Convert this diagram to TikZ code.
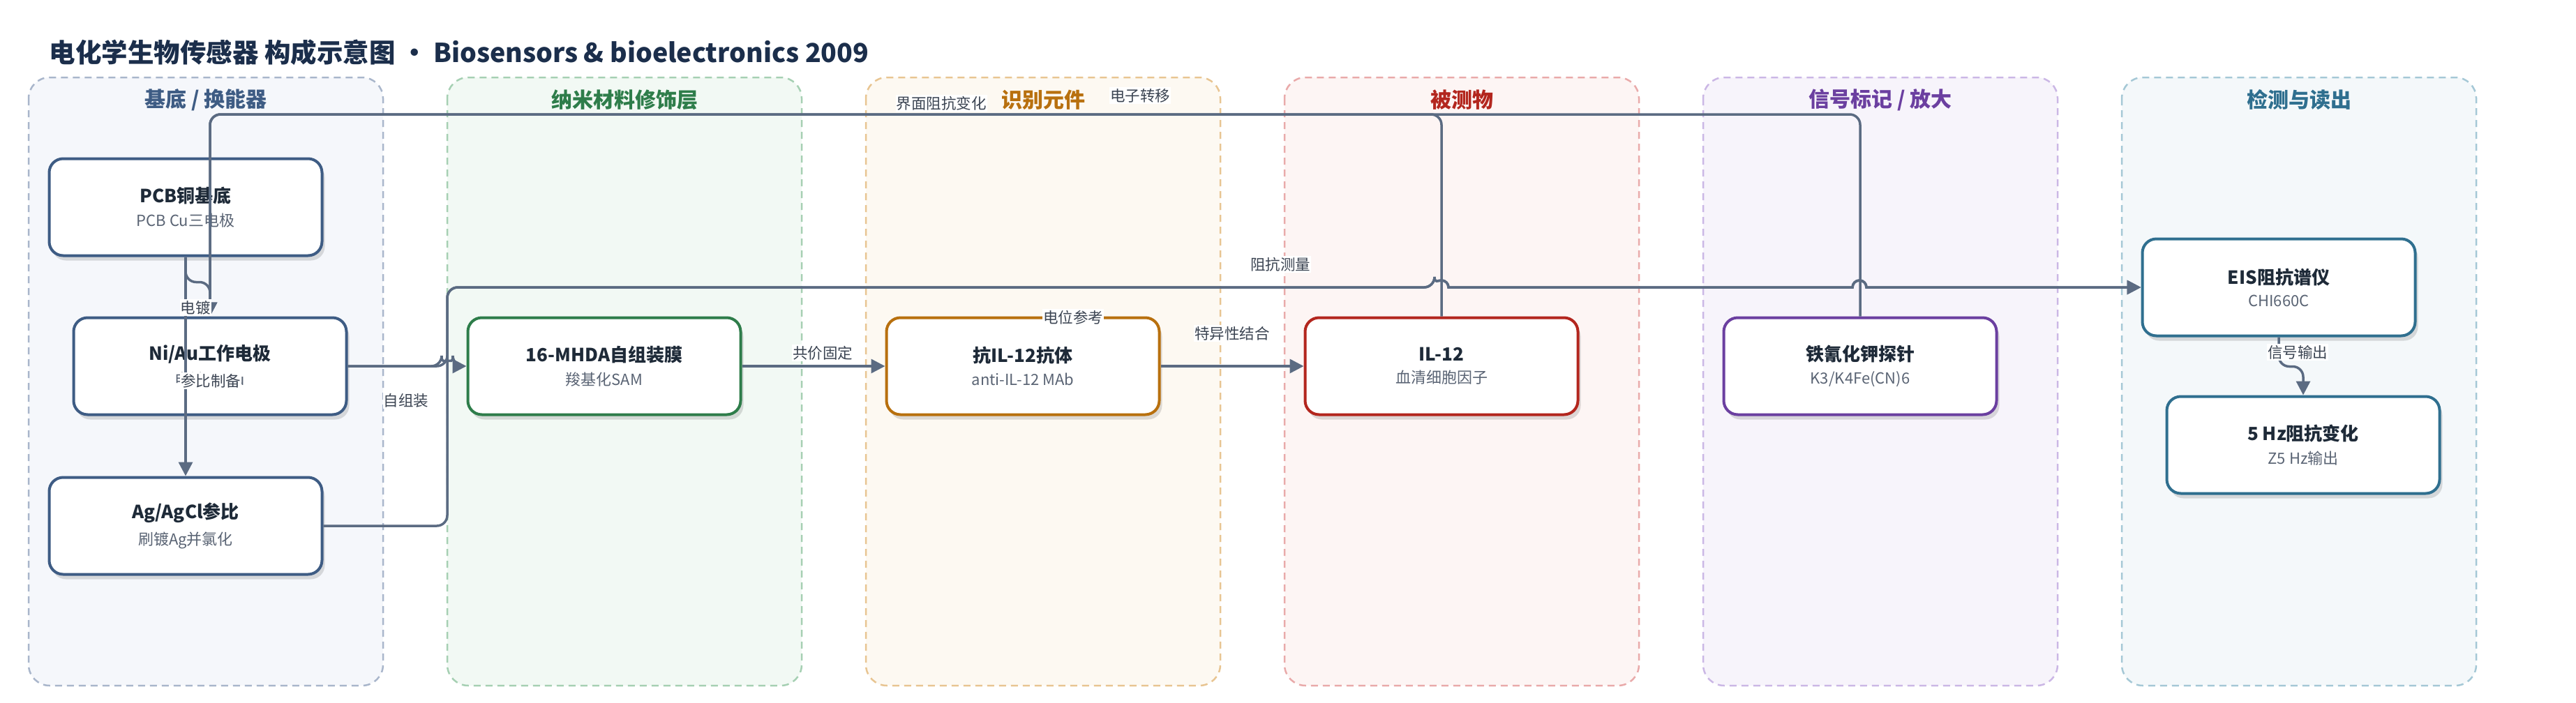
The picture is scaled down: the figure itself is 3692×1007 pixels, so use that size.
\documentclass[tikz,border=0pt]{standalone}
\usepackage{fontspec}
\setmainfont{Noto Sans CJK SC}
\usetikzlibrary{arrows.meta,positioning,shadows}

\newcommand{\cardtext}[2]{{\fontsize{26}{30}\selectfont\bfseries\color{inkC}#1}\\[12pt]{\fontsize{22}{24}\selectfont\color{subC}#2}}

\tikzset{
	lane/.style={rounded corners=30pt, line width=2.5pt, dash pattern=on 10pt off 7pt},
	lanetitle/.style={font=\fontsize{30}{34}\selectfont\bfseries},
	card/.style={rounded corners=20pt, line width=4pt, fill=white, minimum width=391pt, minimum height=139pt, align=center,
		drop shadow={opacity=0.13, shadow xshift=4pt, shadow yshift=-7pt, fill=black}},
	flow/.style={draw=edgeC, line width=3.5pt, rounded corners=15pt, -{Triangle[length=20pt,width=20pt]}},
	tag/.style={fill=white, inner xsep=1pt, inner ysep=2pt, text=tagC, font=\fontsize{21.5}{24}\selectfont}
}

\begin{document}
\begin{tikzpicture}[x=1pt, y=1pt]
	\definecolor{inkC}{HTML}{1E2A38}
	\definecolor{subC}{HTML}{5A6474}
	\definecolor{tagC}{HTML}{3B4452}
	\definecolor{edgeC}{HTML}{5B6B82}
	\definecolor{headC}{HTML}{1B2E4B}
	\definecolor{baseLine}{HTML}{A9B6CB}  \definecolor{baseFill}{HTML}{F5F7FB}  \definecolor{baseInk}{HTML}{3E5C84}
	\definecolor{nanoLine}{HTML}{A6D0B3}  \definecolor{nanoFill}{HTML}{F2F9F4}  \definecolor{nanoInk}{HTML}{2E7D4A}
	\definecolor{recogLine}{HTML}{E8C592} \definecolor{recogFill}{HTML}{FDF9F2} \definecolor{recogInk}{HTML}{B8700E}
	\definecolor{targetLine}{HTML}{E9AAAA} \definecolor{targetFill}{HTML}{FDF5F4} \definecolor{targetInk}{HTML}{B3261E}
	\definecolor{probeLine}{HTML}{CBB7E5} \definecolor{probeFill}{HTML}{F7F4FB} \definecolor{probeInk}{HTML}{6B3FA0}
	\definecolor{readLine}{HTML}{A5C8D6}  \definecolor{readFill}{HTML}{F4F8FA}  \definecolor{readInk}{HTML}{2F6F8F}

	\useasboundingbox (0,0) rectangle (3692,-1007);

	% title
	\node[anchor=west, text=headC, font=\fontsize{37.5}{44}\selectfont\bfseries] (title) at (67,-75)
		{电化学生物传感器 构成示意图 · Biosensors \& bioelectronics 2009};

	% lanes
	\foreach \i/\lc/\txt in {0/base/{基底 / 换能器}, 1/nano/{纳米材料修饰层}, 2/recog/{识别元件}, 3/target/{被测物}, 4/probe/{信号标记 / 放大}, 5/read/{检测与读出}}{
		\draw[lane, draw=\lc Line, fill=\lc Fill] (41+600*\i,-111) rectangle (549+600*\i,-983);
		\node[lanetitle, text=\lc Ink] (lane\i) at (295+600*\i,-143) {\txt};
	}

	% nodes
	\node[card, draw=baseInk] (pcb) at (266,-297) {\cardtext{PCB铜基底}{PCB Cu三电极}};
	\node[card, draw=baseInk] (niau) at (301,-525) {\cardtext{Ni/Au工作电极}{电镀Ni/Au}};
	\node[card, draw=baseInk] (agref) at (266,-754) {\cardtext{Ag/AgCl参比}{刷镀Ag并氯化}};
	\node[card, draw=nanoInk] (mhda) at (866,-525) {\cardtext{16-MHDA自组装膜}{羧基化SAM}};
	\node[card, draw=recogInk] (ab) at (1466,-525) {\cardtext{抗IL-12抗体}{anti-IL-12 MAb}};
	\node[card, draw=targetInk] (il12) at (2066,-525) {\cardtext{IL-12}{血清细胞因子}};
	\node[card, draw=probeInk] (fecn) at (2666,-525) {\cardtext{铁氰化钾探针}{K3/K4Fe(CN)6}};
	\node[card, draw=readInk] (eis) at (3266,-412) {\cardtext{EIS阻抗谱仪}{CHI660C}};
	\node[card, draw=readInk] (hz) at (3301,-638) {\cardtext{5 Hz阻抗变化}{Z5 Hz输出}};

	% connectors
	\draw[flow, rounded corners=0pt] (pcb.south) -- (agref.north);
	\draw[flow] (pcb.south) -- ++(0,-36) -| (niau.north);
	\draw[flow] (il12.north) |- (301,-164) -- (niau.north);
	\draw[flow] (fecn.north) |- (301,-164) -- (niau.north);
	\draw[flow] (niau.east) -- (633,-525) arc (180:0:8) -- (mhda.west);
	\draw[flow] (niau.east) -- (641,-525) -- (641,-412) -- (2056,-412) [sharp corners] arc (180:0:10) -- (2655,-412) arc (180:0:10) -- (eis.west);
	\draw[flow] (agref.east) -- (641,-754) -- (641,-412) -- (2056,-412) [sharp corners] arc (180:0:10) -- (2655,-412) arc (180:0:10) -- (eis.west);
	\draw[flow] (mhda.east) -- (ab.west);
	\draw[flow] (ab.east) -- (il12.west);
	\draw[flow] (eis.south) -- ++(0,-42) -| (hz.north);

	% connector labels
	\node[tag] (tPlate) at (280,-441) {电镀};
	\node[tag] (tRef) at (302,-546) {参比制备};
	\node[tag] (tSam) at (582,-574) {自组装};
	\node[tag] (tCov) at (1179,-506) {共价固定};
	\node[tag] (tPot) at (1538,-455) {电位参考};
	\node[tag] (tBind) at (1766,-478) {特异性结合};
	\node[tag] (tImp) at (1835,-379) {阻抗测量};
	\node[tag] (tIface) at (1349,-148) {界面阻抗变化};
	\node[tag] (tElec) at (1634,-137) {电子转移};
	\node[tag] (tOut) at (3293,-505) {信号输出};
\end{tikzpicture}
\end{document}
